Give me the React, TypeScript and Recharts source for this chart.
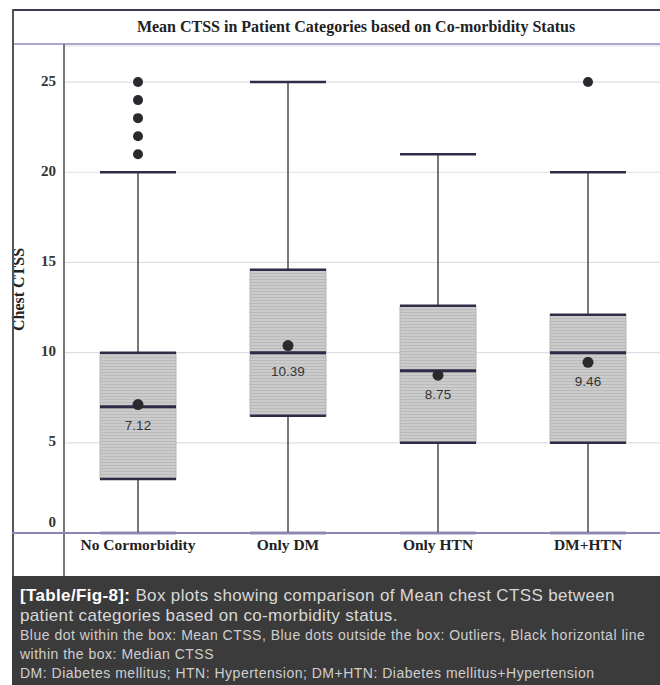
import { Bar, CartesianGrid, ComposedChart, XAxis, YAxis } from 'recharts';

const categories = ['No Cormorbidity', 'Only DM', 'Only HTN', 'DM+HTN'];
const whiskerLow = [0, 0, 0, 0];
const q1 = [3, 6.5, 5, 5];
const median = [7, 10, 9, 10];
const q3 = [10, 14.6, 12.6, 12.1];
const whiskerHigh = [20, 25, 21, 20];
const means = [7.12, 10.39, 8.75, 9.46];
const outliers = [[21, 22, 23, 24, 25], [], [], [25]];
const yTicks = [0, 5, 10, 15, 20, 25];

const data = categories.map((name, i) => ({
    name,
    range: [whiskerLow[i], whiskerHigh[i]],
    q1: q1[i],
    median: median[i],
    q3: q3[i],
    mean: means[i],
    outliers: outliers[i],
}));

const serif = '"Liberation Serif", "Times New Roman", serif';
const sans = '"Liberation Sans", Arial, sans-serif';
const edge = '#2d2d48';

// box drawn inside the bar's [low, high] rectangle, values mapped linearly on it
function BoxShape(props: any) {
    const { x, y, width, height, payload } = props;
    const [lo, hi] = payload.range;
    const py = (v: number) => y + (height * (hi - v)) / (hi - lo);
    const cx = x + width / 2;
    const meanY = py(payload.mean);
    const medY = py(payload.median);
    return (
        <g>
            <line x1={cx} x2={cx} y1={py(hi)} y2={py(lo)} stroke="#4a4a4a" strokeWidth={1.5} />
            <rect
                x={x}
                y={py(payload.q3)}
                width={width}
                height={py(payload.q1) - py(payload.q3)}
                fill="url(#hatch)"
                stroke="#b5b5b5"
                strokeWidth={1}
            />
            <line x1={x} x2={x + width} y1={py(hi)} y2={py(hi)} stroke={edge} strokeWidth={2.5} />
            <line x1={x} x2={x + width} y1={py(lo)} y2={py(lo)} stroke={edge} strokeWidth={2.5} />
            <line x1={x} x2={x + width} y1={py(payload.q3)} y2={py(payload.q3)} stroke={edge} strokeWidth={2.5} />
            <line x1={x} x2={x + width} y1={py(payload.q1)} y2={py(payload.q1)} stroke={edge} strokeWidth={2.5} />
            <line x1={x} x2={x + width} y1={medY} y2={medY} stroke={edge} strokeWidth={3} />
            {payload.outliers.map((v: number) => (
                <circle key={v} cx={cx} cy={py(v)} r={5} fill="#2a2a2e" />
            ))}
            <circle cx={cx} cy={meanY} r={5.5} fill="#2a2a2e" />
            <text
                x={cx}
                y={Math.max(meanY, medY) + 20}
                textAnchor="middle"
                dominantBaseline="middle"
                fontFamily={sans}
                fontSize={13.5}
                fill="#333"
            >
                {payload.mean.toFixed(2)}
            </text>
        </g>
    );
}

function YTick(props: any) {
    const { x, y, payload } = props;
    const shift = payload.value === 0 ? -9 : 0;
    return (
        <text x={x} y={y + shift} textAnchor="end" dominantBaseline="middle" fontFamily={serif} fontWeight="bold" fontSize={15} fill="#333">
            {payload.value}
        </text>
    );
}

export default function App() {
    const line = (style: any) => <div style={{ position: 'absolute', ...style }} />;
    return (
        <div style={{ position: 'absolute', left: 0, top: 0, width: 660, height: 685, overflow: 'hidden', background: '#fff' }}>
            <div style={{ position: 'absolute', left: 0, top: 0 }}>
                <ComposedChart width={663} height={560} data={data} margin={{ top: 46, right: 0, bottom: 0, left: 0 }}>
                    <defs>
                        <pattern id="hatch" width="4" height="3" patternUnits="userSpaceOnUse">
                            <rect width="4" height="3" fill="#cbcbcb" />
                            <rect width="4" height="1" fill="#bababa" />
                        </pattern>
                    </defs>
                    <CartesianGrid vertical={false} stroke="#e4dce4" strokeWidth={1.2} />
                    <XAxis
                        dataKey="name"
                        height={27}
                        axisLine={false}
                        tickLine={false}
                        tickSize={0}
                        tickMargin={6}
                        tick={{ fontFamily: serif, fontWeight: 'bold', fontSize: 15.5, fill: '#222' }}
                        interval={0}
                    />
                    <YAxis
                        width={63}
                        domain={[0, 27]}
                        ticks={yTicks}
                        axisLine={false}
                        tickLine={false}
                        tickSize={0}
                        tickMargin={7}
                        tick={<YTick />}
                        label={{
                            value: 'Chest CTSS',
                            angle: -90,
                            position: 'insideLeft',
                            offset: 18,
                            style: { textAnchor: 'middle', fontFamily: serif, fontWeight: 'bold', fontSize: 16, fill: '#222' },
                        }}
                    />
                    <Bar dataKey="range" barSize={76} shape={<BoxShape />} isAnimationActive={false} />
                </ComposedChart>
            </div>
            {line({ left: 12, top: 9, width: 660, height: 2, background: '#3a3a52' })}
            {line({ left: 12, top: 43, width: 660, height: 2, background: '#a9a9cf' })}
            {line({ left: 12, top: 9, width: 2, height: 568, background: '#555' })}
            {line({ left: 63, top: 44, width: 1.5, height: 533, background: '#777' })}
            {line({ left: 12, top: 532, width: 660, height: 1.5, background: '#8b86b8' })}
            <div
                style={{
                    position: 'absolute',
                    left: 14,
                    top: 11,
                    width: 646,
                    height: 32,
                    display: 'flex',
                    alignItems: 'center',
                    justifyContent: 'center',
                    paddingLeft: 38,
                    boxSizing: 'border-box',
                    fontFamily: serif,
                    fontWeight: 'bold',
                    fontSize: 16,
                    color: '#222',
                }}
            >
                Mean CTSS in Patient Categories based on Co-morbidity Status
            </div>
            <div
                style={{
                    position: 'absolute',
                    left: 12,
                    top: 576,
                    width: 648,
                    height: 109,
                    background: '#3b3b3b',
                    padding: '10px 0 0 8px',
                    boxSizing: 'border-box',
                    fontFamily: sans,
                    color: '#d8d8d8',
                    whiteSpace: 'nowrap',
                }}
            >
                <div style={{ fontSize: 17, lineHeight: '20px', letterSpacing: 0.35 }}>
                    <b style={{ color: '#fff' }}>[Table/Fig-8]:</b> Box plots showing comparison of Mean chest CTSS between
                    <br />
                    patient categories based on co-morbidity status.
                </div>
                <div style={{ fontSize: 14, lineHeight: '19px', letterSpacing: 0.5, color: '#cfcfcf' }}>
                    Blue dot within the box: Mean CTSS, Blue dots outside the box: Outliers, Black horizontal line
                    <br />
                    within the box: Median CTSS
                    <br />
                    DM: Diabetes mellitus; HTN: Hypertension; DM+HTN: Diabetes mellitus+Hypertension
                </div>
            </div>
        </div>
    );
}
